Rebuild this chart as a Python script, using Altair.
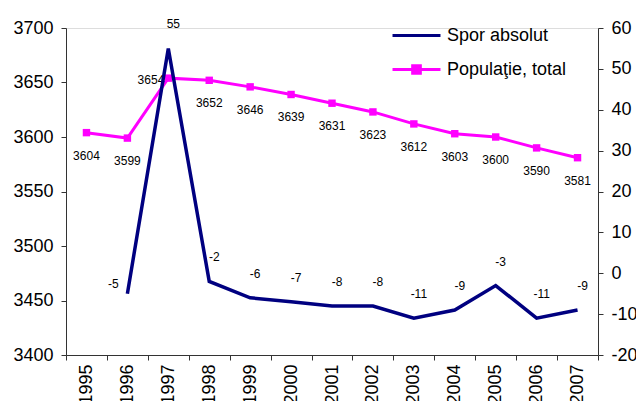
import altair as alt
import pandas as pd

years = ["1995", "1996", "1997", "1998", "1999", "2000", "2001", "2002",
         "2003", "2004", "2005", "2006", "2007"]
population = [3604, 3599, 3654, 3652, 3646, 3639, 3631, 3623, 3612, 3603, 3600, 3590, 3581]
spor_years = ["1996", "1997", "1998", "1999", "2000", "2001", "2002",
              "2003", "2004", "2005", "2006", "2007"]
spor = [-5, 55, -2, -6, -7, -8, -8, -11, -9, -3, -11, -9]

POP_NAME = "Populaţie, total"
SPOR_NAME = "Spor absolut"
FONT = "Liberation Sans"

pop_df = pd.DataFrame({"year": years, "value": population, "series": POP_NAME})
spor_df = pd.DataFrame({"year": spor_years, "value": spor, "series": SPOR_NAME})

x_enc = alt.X(
    "year:O",
    sort=years,
    bandPosition=0.5,
    scale=alt.Scale(type="band", domain=years, paddingInner=0, paddingOuter=0),
    axis=alt.Axis(title=None, labelAngle=270, tickBand="extent", labelFontSize=18,
                  labelFont=FONT, labelColor="#000", domainColor="#333", tickColor="#333",
                  tickSize=5, labelPadding=4, labelBaseline="middle", labelAlign="right"),
)

pop_y = alt.Y("value:Q",
              scale=alt.Scale(domain=[3400, 3700], nice=False, zero=False),
              axis=alt.Axis(title=None, values=list(range(3400, 3701, 50)), orient="left",
                            labelExpr="toString(datum.value)",
                            labelFontSize=18, labelFont=FONT, labelColor="#000",
                            domainColor="#333", tickColor="#333", tickSize=5,
                            labelPadding=8, grid=False))

spor_y = alt.Y("value:Q",
               scale=alt.Scale(domain=[-20, 60], nice=False, zero=False),
               axis=alt.Axis(title=None, values=list(range(-20, 61, 10)), orient="right",
                             labelExpr="toString(datum.value)",
                             labelFontSize=18, labelFont=FONT, labelColor="#000",
                             domainColor="#333", tickColor="#333", tickSize=5,
                             labelPadding=8, grid=False))

pop_line = alt.Chart(pop_df).mark_line(
    strokeWidth=3,
    point=alt.OverlayMarkDef(shape="square", size=55, filled=True, color="#FF00FF", opacity=1),
).encode(
    x=x_enc, y=pop_y,
    color=alt.Color("series:N",
                    scale=alt.Scale(domain=[POP_NAME], range=["#FF00FF"]),
                    legend=alt.Legend(title=None, orient="none", legendX=325, legendY=16,
                                      symbolType="M-1,0H1M-0.16,-0.16H0.16V0.16H-0.16Z",
                                      symbolSize=2300, symbolStrokeWidth=3,
                                      symbolFillColor="#FF00FF",
                                      labelFontSize=18, labelFont=FONT, labelColor="#000",
                                      labelOffset=5)),
)

pop_text_main = alt.Chart(pop_df).transform_filter(
    alt.datum.year != "1997"
).transform_calculate(lbl="toString(datum.value)").mark_text(
    fontSize=12, font=FONT, color="#000", dy=23, baseline="middle"
).encode(x=x_enc, y=pop_y, text="lbl:N")

pop_text_1997 = alt.Chart(pop_df).transform_filter(
    alt.datum.year == "1997"
).transform_calculate(lbl="toString(datum.value)").mark_text(
    fontSize=12, font=FONT, color="#000", dx=-4, dy=2, align="right", baseline="middle"
).encode(x=x_enc, y=pop_y, text="lbl:N")

spor_line = alt.Chart(spor_df).mark_line(strokeWidth=3.5, color="#000080").encode(
    x=x_enc, y=spor_y,
    color=alt.Color("series:N",
                    scale=alt.Scale(domain=[SPOR_NAME], range=["#000080"]),
                    legend=alt.Legend(title=None, orient="none", legendX=325, legendY=-18,
                                      symbolType="stroke", symbolSize=2300,
                                      symbolStrokeWidth=3,
                                      labelFontSize=18, labelFont=FONT, labelColor="#000",
                                      labelOffset=5)),
)

spor_text_main = alt.Chart(spor_df).transform_filter(
    alt.datum.year != "1996"
).transform_calculate(lbl="toString(datum.value)").mark_text(
    fontSize=12, font=FONT, color="#000", dx=5, dy=-24, baseline="middle"
).encode(x=x_enc, y=spor_y, text="lbl:N")

spor_text_1996 = alt.Chart(spor_df).transform_filter(
    alt.datum.year == "1996"
).transform_calculate(lbl="toString(datum.value)").mark_text(
    fontSize=12, font=FONT, color="#000", dx=-14, dy=-10, baseline="middle"
).encode(x=x_enc, y=spor_y, text="lbl:N")

left = alt.layer(pop_line, pop_text_main, pop_text_1997)
right = alt.layer(spor_line, spor_text_main, spor_text_1996)

chart = alt.layer(left, right).resolve_scale(
    y="independent", color="independent"
).properties(
    width=532, height=327,
    autosize=alt.AutoSizeParams(type="none"),
    padding={"left": 58, "top": 20, "right": 38, "bottom": 46},
).configure_view(stroke=None).configure(background="white")

chart.save("out.html", embed_options={"renderer": "svg", "actions": False})
